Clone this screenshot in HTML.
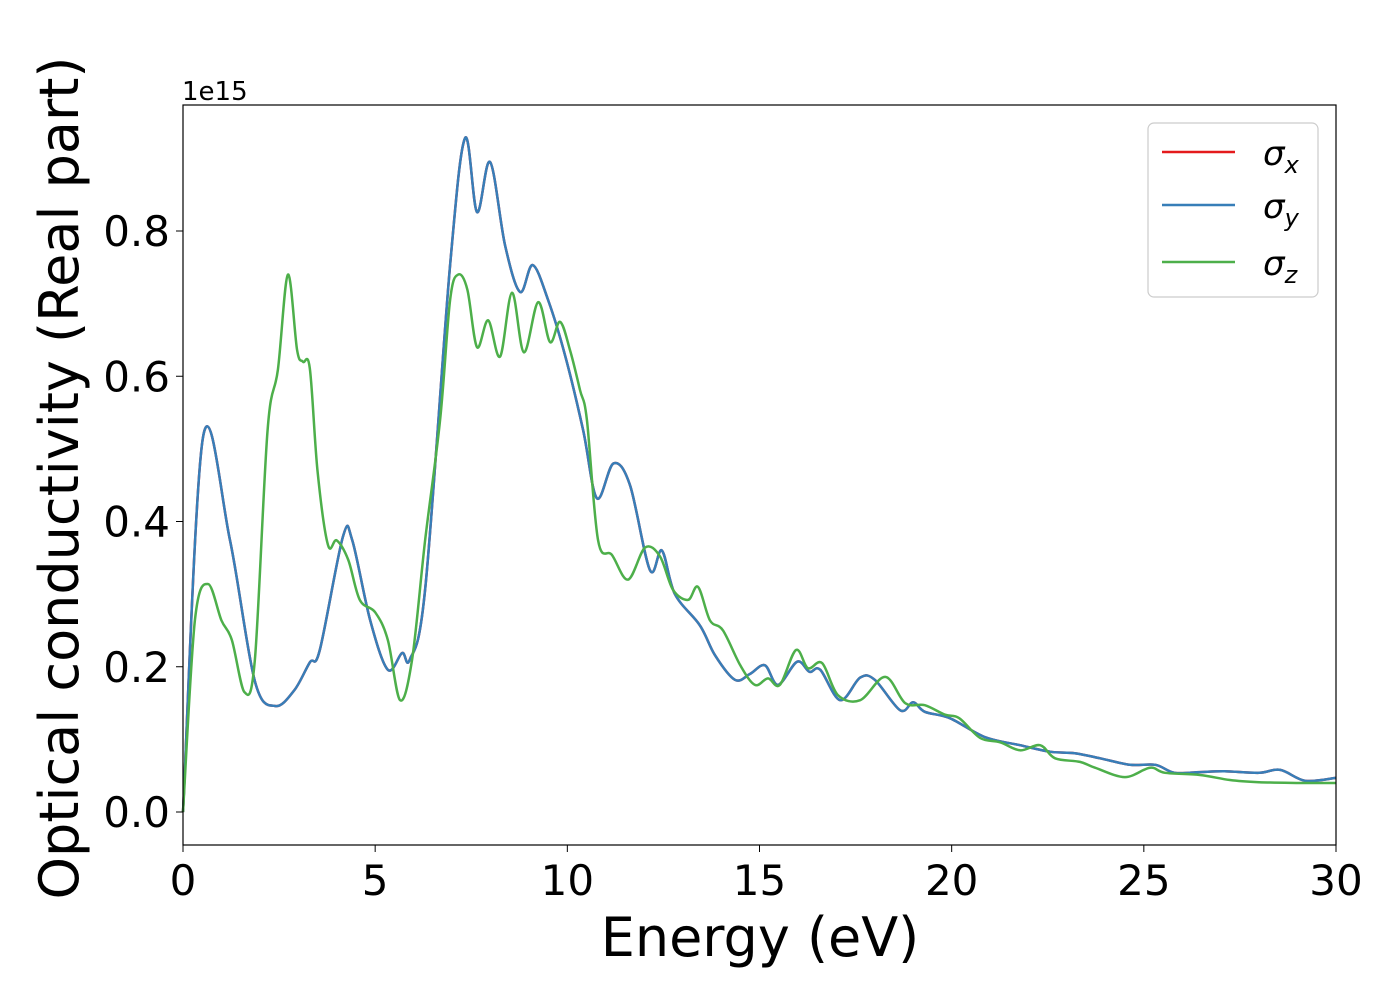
<!DOCTYPE html>
<html><head><meta charset="utf-8"><style>
body{margin:0;background:#fff;}
svg{display:block;font-family:"DejaVu Sans","Liberation Sans",sans-serif;}
</style></head><body>
<svg id="chart" width="1400" height="1000" viewBox="0 0 1400 1000" xmlns="http://www.w3.org/2000/svg">
<rect width="1400" height="1000" fill="#fff"/>
<g id="plot"></g>
<rect x="183" y="105" width="1153" height="740" fill="none" stroke="#000" stroke-width="1.2"/>
<g id="ticks"></g>
<text x="182" y="100" font-size="26">1e15</text>
<text x="760" y="956" font-size="54" text-anchor="middle">Energy (eV)</text>
<text transform="translate(78,478) rotate(-90)" font-size="54" text-anchor="middle">Optical conductivity (Real part)</text>
<g>
<rect x="1148" y="123" width="170" height="174" rx="6" fill="#fff" stroke="#ccc" stroke-width="1.2"/>
<line x1="1162" y1="152" x2="1235" y2="152" stroke="#e41a1c" stroke-width="2.5"/>
<text x="1263" y="165" font-size="34" font-style="italic">σ<tspan font-size="24" dy="8">x</tspan></text>
<line x1="1162" y1="205" x2="1235" y2="205" stroke="#377eb8" stroke-width="2.5"/>
<text x="1263" y="218" font-size="34" font-style="italic">σ<tspan font-size="24" dy="8">y</tspan></text>
<line x1="1162" y1="262" x2="1235" y2="262" stroke="#4daf4a" stroke-width="2.5"/>
<text x="1263" y="275" font-size="34" font-style="italic">σ<tspan font-size="24" dy="8">z</tspan></text>
</g>
</svg>
<script>
const xyEnergy=[0,0.52,1.22,1.87,2.4,2.9,3.3,3.56,4.16,4.4,4.87,5.33,5.7,5.9,6.3,6.95,7.34,7.65,7.99,8.38,8.77,9.1,9.5,9.94,10.41,10.77,11.2,11.63,12.15,12.46,12.8,13.45,13.84,14.36,14.75,15.14,15.48,15.98,16.3,16.58,17.1,17.62,18.0,18.66,19.0,19.3,19.96,20.87,21.78,22.56,23.2,23.86,24.64,25.3,25.8,26.46,27.1,28.0,28.55,29.2,30];
const sigmaXY=[0,0.516,0.375,0.18,0.146,0.168,0.206,0.223,0.379,0.375,0.264,0.196,0.219,0.21,0.306,0.753,0.928,0.826,0.895,0.78,0.716,0.753,0.705,0.629,0.526,0.432,0.48,0.45,0.333,0.36,0.3,0.257,0.216,0.182,0.19,0.202,0.175,0.207,0.193,0.196,0.154,0.185,0.182,0.14,0.151,0.138,0.129,0.103,0.092,0.083,0.081,0.074,0.065,0.065,0.054,0.055,0.056,0.054,0.058,0.043,0.047];
const zEnergy=[0,0.31,0.65,1.0,1.27,1.6,1.87,2.2,2.47,2.73,2.97,3.12,3.3,3.5,3.77,4.0,4.3,4.6,5.0,5.33,5.65,5.96,6.3,6.69,6.95,7.16,7.4,7.65,7.94,8.25,8.56,8.87,9.24,9.55,9.81,10.07,10.33,10.51,10.8,11.16,11.58,12.02,12.41,12.75,13.14,13.4,13.71,14.05,14.5,14.88,15.22,15.53,15.95,16.26,16.63,17.04,17.62,18.27,18.79,19.3,19.83,20.2,20.74,21.26,21.78,22.3,22.69,23.34,23.73,24.51,25.16,25.55,26.46,27.24,28.0,29.07,30];
const sigmaZ=[0,0.264,0.314,0.264,0.237,0.165,0.21,0.526,0.609,0.74,0.636,0.62,0.611,0.47,0.368,0.374,0.347,0.292,0.275,0.237,0.154,0.21,0.374,0.54,0.705,0.74,0.719,0.64,0.677,0.627,0.715,0.633,0.702,0.647,0.675,0.636,0.581,0.54,0.374,0.354,0.32,0.364,0.352,0.306,0.292,0.31,0.264,0.25,0.202,0.175,0.184,0.175,0.223,0.198,0.205,0.161,0.154,0.186,0.15,0.147,0.134,0.129,0.102,0.096,0.085,0.092,0.074,0.069,0.061,0.048,0.061,0.054,0.051,0.044,0.041,0.04,0.04];
const xTicks=[0,5,10,15,20,25,30];
const yTicks=[0,0.2,0.4,0.6,0.8];
const yTickLabels=["0.0","0.2","0.4","0.6","0.8"];

const NS="http://www.w3.org/2000/svg";
const xs=v=>183+v*(1153/30);
const ys=v=>812-v*726.25;
function pathFor(X,Y){
  const p=X.map((x,i)=>[xs(x),ys(Y[i])]);
  let d="M"+p[0][0]+","+p[0][1];
  for(let i=0;i<p.length-1;i++){
    const p0=p[Math.max(i-1,0)],p1=p[i],p2=p[i+1],p3=p[Math.min(i+2,p.length-1)];
    const c1x=p1[0]+(p2[0]-p0[0])/6,c1y=p1[1]+(p2[1]-p0[1])/6;
    const c2x=p2[0]-(p3[0]-p1[0])/6,c2y=p2[1]-(p3[1]-p1[1])/6;
    d+=" C"+c1x.toFixed(1)+","+c1y.toFixed(1)+" "+c2x.toFixed(1)+","+c2y.toFixed(1)+" "+p2[0].toFixed(1)+","+p2[1].toFixed(1);
  }
  return d;
}
const plot=document.getElementById("plot");
function addLine(X,Y,color,name){
  const el=document.createElementNS(NS,"path");
  el.setAttribute("d",pathFor(X,Y));
  el.setAttribute("fill","none");
  el.setAttribute("stroke",color);
  el.setAttribute("stroke-width","2.5");
  
  
  plot.appendChild(el);
}
addLine(xyEnergy,sigmaXY,"#e41a1c","sigma-x-line");
addLine(xyEnergy,sigmaXY,"#377eb8","sigma-y-line");
addLine(zEnergy,sigmaZ,"#4daf4a","sigma-z-line");
const ticks=document.getElementById("ticks");
xTicks.forEach(v=>{
  const l=document.createElementNS(NS,"line");
  l.setAttribute("x1",xs(v));l.setAttribute("x2",xs(v));
  l.setAttribute("y1",845);l.setAttribute("y2",852);
  l.setAttribute("stroke","#000");
  
  
  ticks.appendChild(l);
  const t=document.createElementNS(NS,"text");
  t.setAttribute("x",xs(v));t.setAttribute("y",895);
  t.setAttribute("font-size","42");t.setAttribute("text-anchor","middle");
  t.textContent=v;
  
  
  ticks.appendChild(t);
});
yTicks.forEach((v,i)=>{
  const l=document.createElementNS(NS,"line");
  l.setAttribute("x1",176);l.setAttribute("x2",183);
  l.setAttribute("y1",ys(v));l.setAttribute("y2",ys(v));
  l.setAttribute("stroke","#000");
  
  
  ticks.appendChild(l);
  const t=document.createElementNS(NS,"text");
  t.setAttribute("x",170);t.setAttribute("y",ys(v)+15);
  t.setAttribute("font-size","42");t.setAttribute("text-anchor","end");
  t.textContent=yTickLabels[i];
  
  
  ticks.appendChild(t);
});
</script>
</body></html>
